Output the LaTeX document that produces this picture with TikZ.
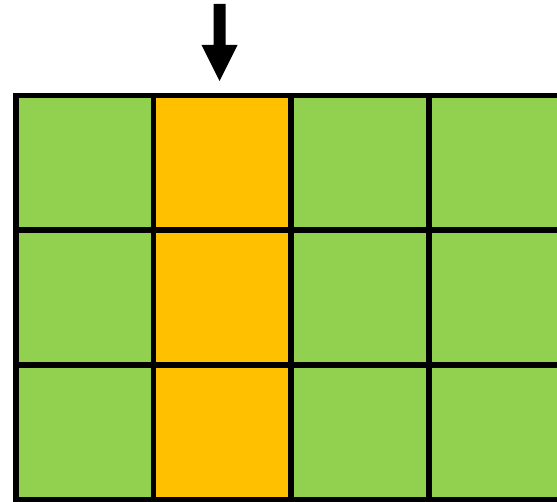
\documentclass[tikz,border=0pt]{standalone}
\definecolor{cellgreen}{HTML}{92D050}
\definecolor{cellorange}{HTML}{FFC000}
\tikzset{
  cell/.style={draw=black, line width=5.5pt, line join=miter},
}
\begin{document}
\begin{tikzpicture}[x=1pt,y=-1pt]
\useasboundingbox (0,0) rectangle (557,502);
\clip (0,0) rectangle (557,502);
\foreach \r/\ya/\yb in {1/95.5/230, 2/230/365, 3/365/499.5}{
  \foreach \c/\xa/\xb/\col in {1/16/153.5/cellgreen, 2/153.5/291/cellorange, 3/291/429/cellgreen, 4/429/567/cellgreen}{
    \fill[\col] (\xa,\ya) rectangle (\xb,\yb);
  }
}
\foreach \x in {16,153.5,291,429}{
  \draw[cell] (\x,95.5) -- (\x,499.5);
}
\foreach \y in {95.5,230,365,499.5}{
  \draw[cell] (13.25,\y) -- (567,\y);
}
% arrow
\fill[black] (213.5,4) -- (225.5,4) -- (225.5,45) -- (237.5,45) -- (219.5,81) -- (201.5,45) -- (213.5,45) -- cycle;
\end{tikzpicture}
\end{document}
